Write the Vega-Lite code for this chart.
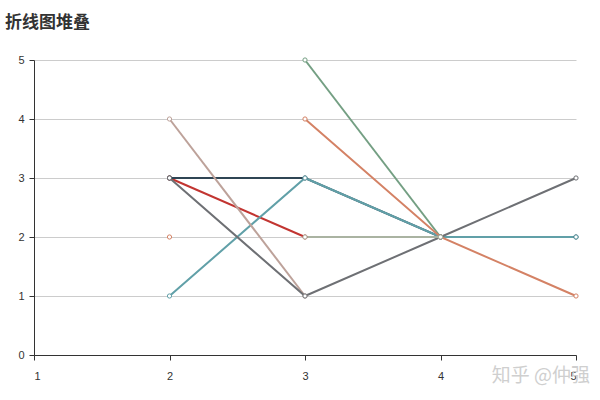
{
  "$schema": "https://vega.github.io/schema/vega-lite/v6.json",
  "width": 542,
  "height": 295,
  "autosize": {"type": "none"},
  "padding": {"left": 34, "top": 60, "right": 24, "bottom": 45},
  "background": "white",
  "title": {
    "text": "折线图堆叠",
    "anchor": "start",
    "dx": -13,
    "offset": 22,
    "font": "Noto Sans CJK SC",
    "fontSize": 17,
    "fontWeight": "bold",
    "color": "#333333"
  },
  "config": {
    "view": {"stroke": null},
    "axis": {
      "labelFont": "Liberation Sans",
      "labelFontSize": 11,
      "labelColor": "#333333",
      "domainColor": "#333333",
      "tickColor": "#333333",
      "tickSize": 5,
      "title": null
    }
  },
  "datasets": {
    "lines": [
      {"series": "s1", "x": 2, "y": 3}, {"series": "s1", "x": 3, "y": 2},
      {"series": "s2", "x": 2, "y": 3}, {"series": "s2", "x": 3, "y": 3}, {"series": "s2", "x": 4, "y": 2}, {"series": "s2", "x": 5, "y": 2},
      {"series": "s3", "x": 2, "y": 1}, {"series": "s3", "x": 3, "y": 3}, {"series": "s3", "x": 4, "y": 2}, {"series": "s3", "x": 5, "y": 2},
      {"series": "s4", "x": 2, "y": 2},
      {"series": "s5", "x": 3, "y": 5}, {"series": "s5", "x": 4, "y": 2},
      {"series": "s6", "x": 3, "y": 4}, {"series": "s6", "x": 4, "y": 2}, {"series": "s6", "x": 5, "y": 1},
      {"series": "s7", "x": 2, "y": 4}, {"series": "s7", "x": 3, "y": 1},
      {"series": "s8", "x": 2, "y": 3}, {"series": "s8", "x": 3, "y": 1}, {"series": "s8", "x": 4, "y": 2}, {"series": "s8", "x": 5, "y": 3},
      {"series": "s9", "x": 3, "y": 2}, {"series": "s9", "x": 4, "y": 2}
    ],
    "mark": [{"label": "知乎 @仲强"}]
  },
  "layer": [
    {
      "data": {"name": "lines"},
      "mark": {"type": "line", "strokeWidth": 2},
      "encoding": {
        "x": {"field": "x", "type": "quantitative", "scale": {"domain": [1, 5], "nice": false, "zero": false},
              "axis": {"values": [1, 2, 3, 4, 5], "grid": false, "labelPadding": 10, "format": "d"}},
        "y": {"field": "y", "type": "quantitative", "scale": {"domain": [0, 5], "nice": false},
              "axis": {"values": [0, 1, 2, 3, 4, 5], "grid": true, "gridColor": "#cccccc", "labelPadding": 5, "format": "d"}},
        "color": {"field": "series", "type": "nominal", "legend": null,
                  "scale": {"domain": ["s1", "s2", "s3", "s4", "s5", "s6", "s7", "s8", "s9"],
                            "range": ["#c23531", "#2f4554", "#61a0a8", "#d48265", "#749f83", "#d48265", "#bda29a", "#6e7074", "#aab3a2"]}}
      }
    },
    {
      "data": {"name": "lines"},
      "mark": {"type": "point", "shape": "circle", "filled": false, "fill": "white", "fillOpacity": 1, "size": 18, "strokeWidth": 1, "opacity": 1},
      "encoding": {
        "x": {"field": "x", "type": "quantitative"},
        "y": {"field": "y", "type": "quantitative"},
        "color": {"field": "series", "type": "nominal", "legend": null}
      }
    },
    {
      "data": {"name": "mark"},
      "mark": {"type": "text", "align": "right", "baseline": "middle", "dx": 14, "font": "Noto Sans CJK SC", "fontSize": 19, "color": "#cfcfcf", "clip": false},
      "encoding": {
        "text": {"field": "label"},
        "x": {"datum": 5, "type": "quantitative"},
        "y": {"datum": -0.36, "type": "quantitative"}
      }
    }
  ]
}
